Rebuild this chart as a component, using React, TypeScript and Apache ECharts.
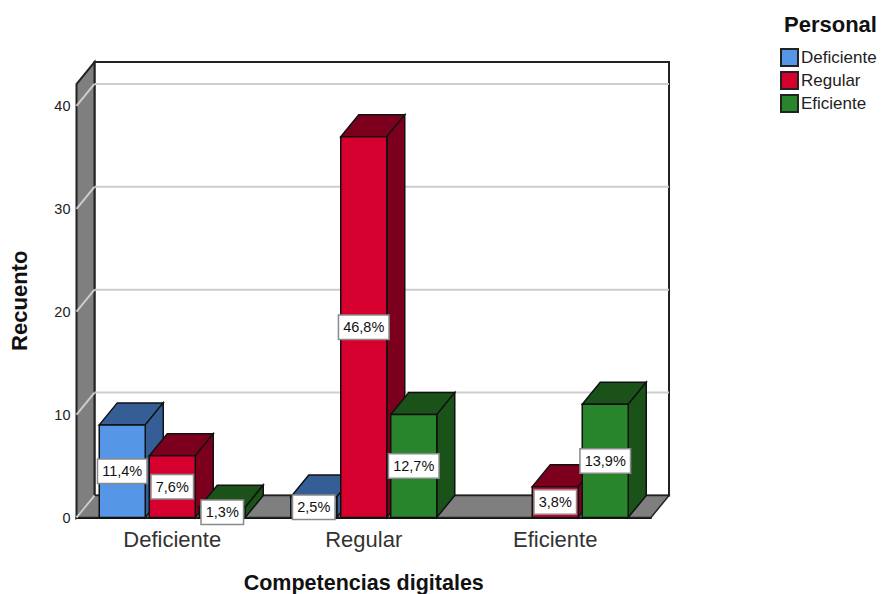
import React, { useEffect, useRef } from "react";
import * as echarts from "echarts";

const categories = ["Deficiente", "Regular", "Eficiente"];
const seriesNames = ["Deficiente", "Regular", "Eficiente"];
const countsDeficiente = [9, 2, null];
const countsRegular = [6, 37, 3];
const countsEficiente = [1, 10, 11];
const pctDeficiente = ["11,4%", "2,5%", null];
const pctRegular = ["7,6%", "46,8%", "3,8%"];
const pctEficiente = ["1,3%", "12,7%", "13,9%"];
const gridValues = [0, 10, 20, 30, 40];

const frontColors = ["#5596E6", "#D6002E", "#29852B"];
const darkColors = ["#355E96", "#7C001E", "#1A5219"];
const allCounts = [countsDeficiente, countsRegular, countsEficiente];
const allPct = [pctDeficiente, pctRegular, pctEficiente];

// Oblique projection of the box: depth runs up and to the right.
const DEPTH_X = 18;
const DEPTH_Y = 22;
const BAR_STEP = 50;
const BAR_WIDTH = 46;
const AXIS_MAX = 42.13;
const EDGE = "#111";
const FONT = "Liberation Sans";

const poly = (points: number[][], fill: string, stroke = EDGE, lineWidth = 1.5) => ({
  type: "polygon",
  shape: { points },
  style: { fill, stroke, lineWidth },
});

function renderWalls(params: any) {
  const { x, y, width, height } = params.coordSys;
  const b = y + height;
  const r = x + width;
  const dx = DEPTH_X;
  const dy = DEPTH_Y;
  return {
    type: "group",
    children: [
      poly([[x + dx, y - dy], [r + dx, y - dy], [r + dx, b - dy], [x + dx, b - dy]], "#ffffff", "#222", 2),
      poly([[x, b], [x + dx, b - dy], [x + dx, y - dy], [x, y]], "#7F7F7F", "#222", 2),
      poly([[x, b], [r, b], [r + dx, b - dy], [x + dx, b - dy]], "#7F7F7F", "#222", 1.5),
    ],
  };
}

function renderGridLine(params: any, api: any) {
  const { x, width } = params.coordSys;
  const py = api.coord([0, api.value(0)])[1];
  const style = { stroke: "#CDCDCD", lineWidth: 2 };
  const r = x + width + DEPTH_X;
  const isFloor = api.value(0) === 0;
  return {
    type: "group",
    children: [
      { type: "line", shape: { x1: x, y1: py, x2: x + DEPTH_X, y2: py - DEPTH_Y }, style },
      ...(isFloor
        ? []
        : [{ type: "line", shape: { x1: x + DEPTH_X, y1: py - DEPTH_Y, x2: r, y2: py - DEPTH_Y }, style }]),
    ],
  };
}

const barLeft = (api: any, cat: number, idx: number) =>
  api.coord([cat, 0])[0] + (idx - 1) * BAR_STEP - BAR_WIDTH / 2;

function makeBarRenderer(idx: number) {
  return (_params: any, api: any) => {
    const cat = api.value(0);
    const l = barLeft(api, cat, idx);
    const r = l + BAR_WIDTH;
    const b = api.coord([cat, 0])[1];
    const t = api.coord([cat, api.value(1)])[1];
    const dx = DEPTH_X;
    const dy = DEPTH_Y;
    const dark = darkColors[idx];
    return {
      type: "group",
      children: [
        poly([[l, t], [r, t], [r + dx, t - dy], [l + dx, t - dy]], dark),
        poly([[r, t], [r + dx, t - dy], [r + dx, b - dy], [r, b]], dark),
        poly([[l, t], [r, t], [r, b], [l, b]], frontColors[idx]),
      ],
    };
  };
}

function renderValueLabel(_params: any, api: any) {
  const cat = api.value(0);
  const idx = api.value(1);
  const cx = barLeft(api, cat, idx) + BAR_WIDTH / 2;
  const mid = api.coord([cat, api.value(2) / 2])[1];
  return {
    type: "text",
    style: {
      text: allPct[idx][cat],
      x: cx,
      y: mid,
      align: "center",
      verticalAlign: "middle",
      fill: "#111",
      font: `14.5px "${FONT}"`,
      backgroundColor: "#FFFFFF",
      borderColor: "#8A8A8A",
      borderWidth: 1.5,
      padding: [4, 4, 4, 4],
    },
  };
}

export default function App() {
  const ref = useRef<HTMLDivElement>(null);

  useEffect(() => {
    document.body.style.margin = "0";
    document.body.style.background = "#fff";
    const chart = echarts.init(ref.current!, undefined, { renderer: "svg" });

    const barSeries = seriesNames.map((name, idx) => ({
      type: "custom",
      name,
      renderItem: makeBarRenderer(idx),
      itemStyle: { color: frontColors[idx], borderColor: "#222", borderWidth: 1.5 },
      encode: { x: 0, y: 1 },
      data: allCounts[idx]
        .map((v, cat) => [cat, v])
        .filter((d) => d[1] !== null),
    }));

    const labelData: number[][] = [];
    allCounts.forEach((vals, idx) =>
      vals.forEach((v, cat) => {
        if (v !== null) labelData.push([cat, idx, v]);
      })
    );

    chart.setOption({
      animation: false,
      backgroundColor: "#fff",
      textStyle: { fontFamily: FONT },
      title: {
        text: "Personal",
        left: 779,
        top: 8,
        textStyle: { fontFamily: FONT, fontSize: 22, fontWeight: "bold", color: "#111" },
      },
      legend: {
        data: seriesNames,
        orient: "vertical",
        left: 775,
        top: 43,
        itemWidth: 17,
        itemHeight: 17,
        itemGap: 4,
        icon: "rect",
        textStyle: { fontFamily: FONT, fontSize: 17, color: "#222", padding: [0, 0, 0, -2] },
      },
      grid: { left: 76.5, top: 84, width: 574.5, height: 433.5, outerBoundsMode: "none" },
      xAxis: {
        type: "category",
        data: categories,
        axisTick: { show: false },
        axisLine: { show: true, lineStyle: { color: "#111", width: 2 } },
        axisLabel: { fontFamily: FONT, fontSize: 22, color: "#333", margin: 11 },
        name: "Competencias digitales",
        nameLocation: "middle",
        nameGap: 54,
        nameTextStyle: { fontFamily: FONT, fontSize: 21.5, fontWeight: "bold", color: "#111" },
      },
      yAxis: {
        type: "value",
        min: 0,
        max: AXIS_MAX,
        interval: 10,
        splitLine: { show: false },
        axisTick: { show: false },
        axisLine: { show: false },
        axisLabel: { fontFamily: FONT, fontSize: 14.5, color: "#222", margin: 6, showMaxLabel: false },
        name: "Recuento",
        nameLocation: "middle",
        nameGap: 46,
        nameTextStyle: { fontFamily: FONT, fontSize: 22, fontWeight: "bold", color: "#111" },
      },
      series: [
        { type: "custom", name: "walls", renderItem: renderWalls, encode: { x: 0, y: 1 }, data: [[0, 0]], silent: true },
        { type: "custom", name: "gridlines", renderItem: renderGridLine, encode: { y: 0 }, data: gridValues.map((v) => [v]), silent: true },
        ...barSeries,
        { type: "custom", name: "labels", renderItem: renderValueLabel, encode: { x: 0, y: 2 }, data: labelData, silent: true },
      ],
    });

    return () => chart.dispose();
  }, []);

  return <div ref={ref} style={{ width: 881, height: 594 }} />;
}
